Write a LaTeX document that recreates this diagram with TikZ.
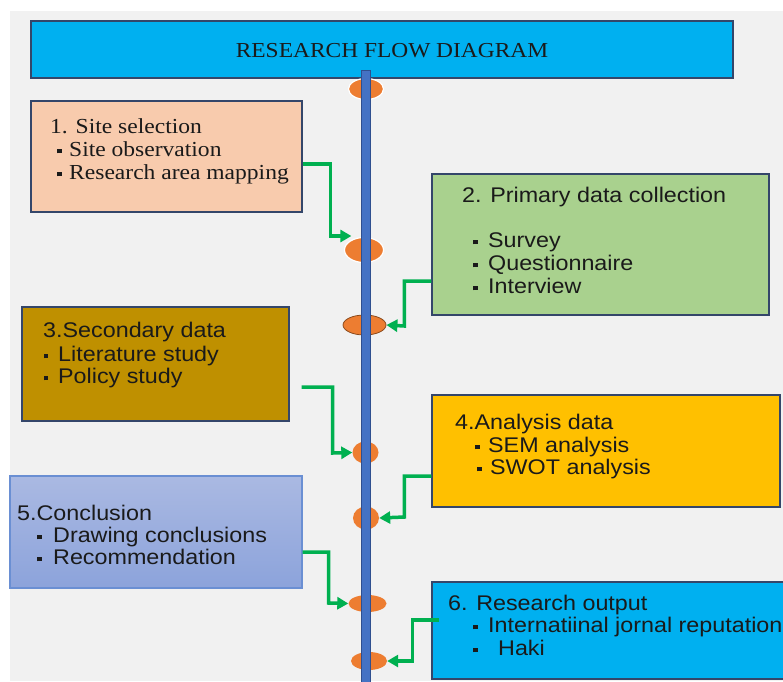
\documentclass[tikz,border=0pt]{standalone}
\usepackage{fontspec}
\setmainfont{Liberation Serif}[FakeStretch=1.1]
\setsansfont{Liberation Sans}[FakeStretch=1.1]
\usetikzlibrary{shapes.geometric,arrows.meta}

\definecolor{PageGray}{HTML}{f1f1f1}
\definecolor{TitleBlue}{HTML}{00b0f0}
\definecolor{BoxEdge}{HTML}{34466a}
\definecolor{StepPeach}{HTML}{f8cbad}
\definecolor{StepGreen}{HTML}{a9d18e}
\definecolor{StepGold}{HTML}{bf9000}
\definecolor{StepAmber}{HTML}{ffc000}
\definecolor{StepLavTop}{HTML}{aab9e2}
\definecolor{StepLavBottom}{HTML}{8ca3db}
\definecolor{StepLavEdge}{HTML}{6a8fd3}
\definecolor{PointOrange}{HTML}{ed7d31}
\definecolor{PointBrown}{HTML}{8b4a1c}
\definecolor{AxisBlue}{HTML}{4472c4}
\definecolor{AxisEdge}{HTML}{2f4f8f}
\definecolor{FlowGreen}{HTML}{00b050}
\definecolor{TextDark}{HTML}{1a1a1a}

\tikzstyle{flow-box}=[rectangle, draw={BoxEdge}, line width=1.2pt, inner sep=0pt]
\tikzstyle{flow-point}=[ellipse, fill={PointOrange}, inner sep=0pt]
\tikzstyle{flow-arrow}=[draw={FlowGreen}, line width=3.5pt, -{Triangle[length=11pt, width=12pt]}]
\tikzstyle{serif-line}=[inner sep=0pt, anchor=base west, text={TextDark}, font=\rmfamily\fontsize{21.4pt}{23pt}\selectfont]
\tikzstyle{sans-line}=[inner sep=0pt, anchor=base west, text={TextDark}, font=\sffamily\fontsize{21.2pt}{23pt}\selectfont]

\newcommand{\sqitem}[1][10.3pt]{\rule[0.12em]{0.22em}{0.22em}\hspace{#1}}

\begin{document}
\begin{tikzpicture}[x=1pt, y=-1pt]
      \useasboundingbox (0, 0) rectangle (783, 681);
      \fill[white] (0, 0) rectangle (783, 681);
      \fill[PageGray] (10, 11) rectangle (783, 681);

      \node (title) at (382, 49.5)
            [flow-box, fill={TitleBlue}, minimum width=702pt, minimum height=57pt] {};
      \node (title:text) at (392, 57)
            [serif-line, anchor=base, font=\rmfamily\fontsize{21.3pt}{23pt}\selectfont] {RESEARCH FLOW DIAGRAM};

      \node (box1) at (166.5, 156.5)
            [flow-box, fill={StepPeach}, minimum width=271pt, minimum height=111pt] {};
      \node (box2) at (600.5, 244.5)
            [flow-box, fill={StepGreen}, minimum width=337pt, minimum height=141pt] {};
      \node (box3) at (155.5, 364)
            [flow-box, fill={StepGold}, minimum width=267pt, minimum height=114pt] {};
      \node (box4) at (606, 451)
            [flow-box, fill={StepAmber}, minimum width=348pt, minimum height=112pt] {};
      \node (box5) at (156, 532)
            [flow-box, draw={StepLavEdge}, top color={StepLavTop}, bottom color={StepLavBottom}, minimum width=292pt, minimum height=112pt] {};
      \node (box6) at (616, 630.5)
            [flow-box, fill={TitleBlue}, minimum width=368pt, minimum height=97pt] {};

      \node (box1:title) at (50, 133) [serif-line] {1. Site selection};
      \node (box1:item1) at (57, 156) [serif-line] {\sqitem[7.3pt]Site observation};
      \node (box1:item2) at (57, 179) [serif-line] {\sqitem[7.3pt]Research area mapping};

      \node (box2:title) at (462, 202) [sans-line] {2. Primary data collection};
      \node (box2:item1) at (473, 247) [sans-line] {\sqitem Survey};
      \node (box2:item2) at (473, 270) [sans-line] {\sqitem Questionnaire};
      \node (box2:item3) at (473, 293) [sans-line] {\sqitem Interview};

      \node (box3:title) at (43, 337) [sans-line] {3.Secondary data};
      \node (box3:item1) at (43.3, 361) [sans-line] {\sqitem[10pt]Literature study};
      \node (box3:item2) at (43.3, 383) [sans-line] {\sqitem[10pt]Policy study};

      \node (box4:title) at (455, 429) [sans-line] {4.Analysis data};
      \node (box4:item1) at (475, 452) [sans-line] {\sqitem[8.3pt]SEM analysis};
      \node (box4:item2) at (477, 474) [sans-line] {\sqitem[8.3pt]SWOT analysis};

      \node (box5:title) at (17, 520) [sans-line] {5.Conclusion};
      \node (box5:item1) at (37, 542) [sans-line] {\sqitem[11.3pt]Drawing conclusions};
      \node (box5:item2) at (37, 564) [sans-line] {\sqitem[11.3pt]Recommendation};

      \node (box6:title) at (448, 610) [sans-line] {6. Research output};
      \node (box6:item1) at (473, 632) [sans-line] {\sqitem Internatiinal jornal reputation};
      \node (box6:item2) at (473, 655) [sans-line] {\sqitem[20.3pt]Haki};

      \node (point1) at (366, 89)
            [flow-point, draw=white, line width=1.2pt, minimum width=35pt, minimum height=21pt] {};
      \node (point2) at (364, 250)
            [flow-point, draw=white, line width=1.2pt, minimum width=39pt, minimum height=25pt] {};
      \node (point3) at (364.5, 325)
            [flow-point, draw={PointBrown}, line width=0.8pt, minimum width=43pt, minimum height=20pt] {};
      \node (point4) at (365.5, 452.5)
            [flow-point, minimum width=26pt, minimum height=22pt] {};
      \node (point5) at (366, 518)
            [flow-point, minimum width=26pt, minimum height=23pt] {};
      \node (point6) at (367.5, 603.5)
            [flow-point, minimum width=38pt, minimum height=17pt] {};
      \node (point7) at (369, 661)
            [flow-point, minimum width=36pt, minimum height=18pt] {};

      \filldraw[fill={AxisBlue}, draw={AxisEdge}, line width=0.8pt] (361.5, 70) rectangle (370.5, 690);

      \draw[flow-arrow] ([yshift=-7.5pt]box1.east) -| ++(28, 72) -- ([xshift=7.5pt, yshift=14pt]point2.west);
      \draw[flow-arrow] ([yshift=-36.5pt]box2.west) -| ++(-27, 45) -- (point3.east);
      \draw[flow-arrow] ([xshift=12pt, yshift=-23pt]box3.east) -| ++(31, 66) -- (point4.west);
      \draw[flow-arrow] ([yshift=-25pt]box4.west) -| ++(-27, 41) -- (point5.east);
      \draw[flow-arrow] ([yshift=-20pt]box5.east) -| ++(26, 51) -- (point6.west);
      \draw[flow-arrow] ([xshift=8pt, yshift=10.5pt]box6.west) -| ++(-27, 41) -- (point7.east);
\end{tikzpicture}
\end{document}
